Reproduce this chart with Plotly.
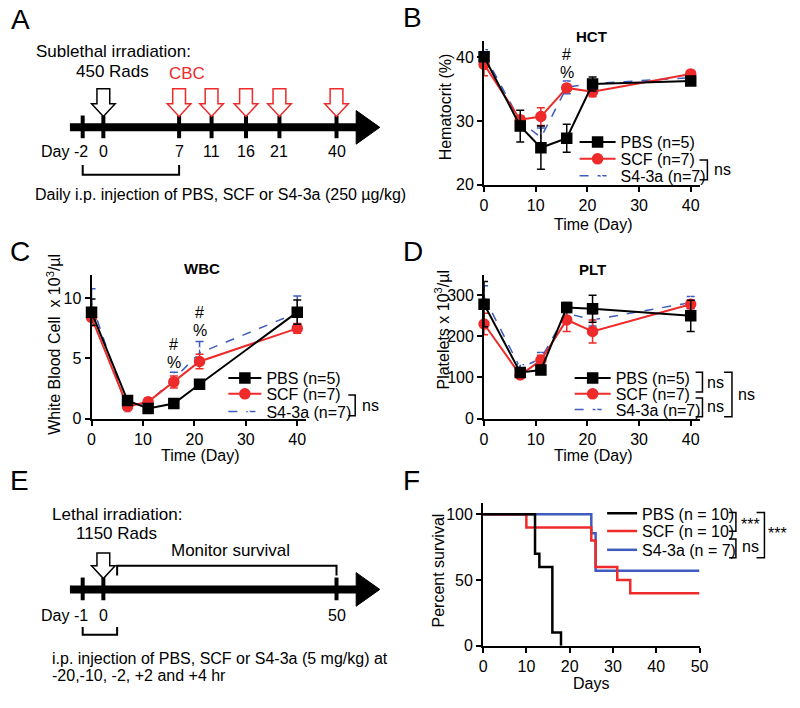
import plotly.graph_objects as go

W, H = 800, 708
FONT = "Arial, Liberation Sans, sans-serif"
BLACK = "#000000"
RED = "#EE2A2A"
BLUE = "#3F5BBE"

# ---------------- data ----------------
days = [0, 7, 11, 16, 21, 40]
groups = ["PBS (n=5)", "SCF (n=7)", "S4-3a (n=7)"]

hct_pbs = [40.1, 29.2, 25.8, 27.3, 35.8, 36.3]
hct_pbs_err = [0.6, 2.5, 3.4, 2.2, 1.1, 0.4]
hct_scf = [38.9, 30.2, 30.7, 35.2, 34.6, 37.4]
hct_scf_err = [1.8, 0.6, 1.4, 0.5, 0.8, 0.3]
hct_s43a = [40.5, 30.0, 27.4, 35.3, 35.9, 36.8]
hct_s43a_err = [0.7, 0.8, 1.5, 1.0, 0.5, 0.3]

wbc_pbs = [8.85, 1.5, 0.85, 1.25, 2.85, 8.85]
wbc_pbs_err = [1.1, 0.4, 0.15, 0.15, 0.2, 1.0]
wbc_scf = [8.4, 1.0, 1.4, 3.05, 4.75, 7.5]
wbc_scf_err = [0.7, 0.2, 0.3, 0.5, 0.6, 0.4]
wbc_s43a = [9.6, 0.75, 1.3, 3.3, 5.45, 8.8]
wbc_s43a_err = [1.2, 0.2, 0.2, 0.55, 0.95, 1.4]

plt_pbs = [278, 112, 118, 270, 267, 250]
plt_pbs_err = [55, 10, 10, 12, 33, 38]
plt_scf = [230, 106, 142, 240, 212, 278]
plt_scf_err = [26, 8, 12, 28, 28, 10]
plt_s43a = [296, 123, 146, 256, 240, 282]
plt_s43a_err = [27, 8, 15, 10, 15, 15]

surv_groups = ["PBS (n = 10)", "SCF (n = 10)", "S4-3a (n = 7)"]
surv_pbs_t = [0, 12, 13, 16, 18]
surv_pbs_s = [100, 70, 60, 10, 0]
surv_scf_t = [0, 10, 25, 26, 31, 34, 50]
surv_scf_s = [100, 90, 80, 60, 50, 40, 40]
surv_s43a_t = [0, 25, 26, 50]
surv_s43a_s = [100, 85.7, 57.1, 57.1]

timeline_a_days = ["-2", "0", "7", "11", "16", "21", "40"]
timeline_e_days = ["-1", "0", "50"]


def px(x):
    return x / W


def py(y):
    return 1 - y / H


fig = go.Figure()
shapes = []
annos = []
legends = {}


def text(x, y, s, size=15, color=BLACK, xanchor="left", yanchor="middle", angle=0, bold=False, **kw):
    if bold:
        s = "<b>" + s + "</b>"
    annos.append(dict(x=px(x), y=py(y), xref="paper", yref="paper", text=s, showarrow=False,
                      xanchor=xanchor, yanchor=yanchor, textangle=angle,
                      font=dict(family=FONT, size=size, color=color), **kw))


def path(pts, close=False, color=BLACK, width=2, fill=None):
    d = "M " + " L ".join(f"{px(x):.5f},{py(y):.5f}" for x, y in pts)
    if close:
        d += " Z"
    shp = dict(type="path", path=d, xref="paper", yref="paper",
               line=dict(color=color, width=width))
    if fill:
        shp["fillcolor"] = fill
    shapes.append(shp)


def line(x0, y0, x1, y1, color=BLACK, width=2):
    shapes.append(dict(type="line", x0=px(x0), y0=py(y0), x1=px(x1), y1=py(y1),
                       xref="paper", yref="paper", line=dict(color=color, width=width)))


def hollow_arrow(cx, top, head, tip, color):
    path([(cx - 6.5, top), (cx + 6.5, top), (cx + 6.5, head), (cx + 12, head), (cx, tip),
          (cx - 12, head), (cx - 6.5, head)], close=True, color=color, width=1.5, fill="white")


def timeline(yc, tick_x):
    line(67, yc, 360, yc, width=8)
    path([(358, yc - 17), (382, yc), (358, yc + 17)], close=True, width=1, fill=BLACK)
    for tx in tick_x:
        line(tx, yc - 12, tx, yc + 11, width=4)


# ---------------- panel A ----------------
a_x = [80, 101, 178, 211, 246, 280, 338]
timeline(129, a_x)
hollow_arrow(101, 90, 105, 118, BLACK)
for cx in a_x[2:]:
    hollow_arrow(cx, 90, 105, 118, RED)
text(87, 153, "Day " + timeline_a_days[0], size=16, xanchor="right")
for cx, lab in zip(a_x[1:], timeline_a_days[1:]):
    text(cx, 153, lab, size=16, xanchor="center")
text(31, 52, "Sublethal irradiation:", size=17)
text(71, 72, "450 Rads", size=17)
text(166, 74, "CBC", size=17, color=RED)
path([(80, 167), (80, 177), (178, 177), (178, 167)], width=2)
text(29, 197, "Daily i.p. injection of PBS, SCF or S4-3a (250 \u00b5g/kg)", size=16)

# ---------------- panel E ----------------
e_x = [80, 101, 338]
timeline(597, e_x)
hollow_arrow(101, 560, 573, 586, BLACK)
text(87, 623, "Day " + timeline_e_days[0], size=16, xanchor="right")
for cx, lab in zip(e_x[1:], timeline_e_days[1:]):
    text(cx, 623, lab, size=16, xanchor="center")
text(47, 521, "Lethal irradiation:", size=17)
text(71, 540, "1150 Rads", size=17)
text(230, 558, "Monitor survival", size=17, xanchor="center")
path([(115, 583), (115, 573), (338, 573), (338, 583)], width=2)
path([(80, 635), (80, 643), (115, 643), (115, 635)], width=2)
text(47, 667, "i.p. injection of PBS, SCF or S4-3a (5 mg/kg) at", size=16)
text(47, 684, "-20,-10, -2, +2 and +4 hr", size=16)

# ---------------- panel letters ----------------
for lx, ly, L in [(5, 20, "A"), (404, 18, "B"), (4, 255, "C"), (404, 255, "D"), (4, 487, "E"), (404, 487, "F")]:
    text(lx, ly, L, size=28)

# ---------------- axes ----------------
axis_common = dict(showline=True, linewidth=2, linecolor=BLACK, ticks="outside", ticklen=5,
                   tickwidth=2, tickcolor=BLACK, showgrid=False, zeroline=False,
                   tickfont=dict(family=FONT, size=16, color=BLACK), fixedrange=True)


def dom(a, b, vertical=False):
    if vertical:
        return [py(b), py(a)]
    return [px(a), px(b)]


layout_axes = {
    # B
    "xaxis": dict(domain=dom(488, 707), range=[0, 41.7], tickvals=[0, 10, 20, 30, 40], anchor="y", **axis_common),
    "yaxis": dict(domain=dom(42, 187, True), range=[20, 42.5], tickvals=[20, 30, 40], anchor="x", **axis_common),
    # C
    "xaxis2": dict(domain=dom(89, 307), range=[0, 41.7], tickvals=[0, 10, 20, 30, 40], anchor="y2", **axis_common),
    "yaxis2": dict(domain=dom(279, 424, True), range=[0, 11.9], tickvals=[0, 5, 10], anchor="x2", **axis_common),
    # D
    "xaxis3": dict(domain=dom(488, 707), range=[0, 41.7], tickvals=[0, 10, 20, 30, 40], anchor="y3", **axis_common),
    "yaxis3": dict(domain=dom(279, 424, True), range=[0, 348], tickvals=[0, 100, 200, 300], anchor="x3", **axis_common),
    # F
    "xaxis4": dict(domain=dom(487, 707), range=[0, 50], tickvals=[0, 10, 20, 30, 40, 50], anchor="y4", **axis_common),
    "yaxis4": dict(domain=dom(509, 654, True), range=[0, 109], tickvals=[0, 50, 100], anchor="x4", **axis_common),
}

leg_count = [0]


def new_legend(x, yc, itemwidth):
    leg_count[0] += 1
    name = "legend" if leg_count[0] == 1 else f"legend{leg_count[0]}"
    legends[name] = dict(x=px(x), y=py(yc), xanchor="left", yanchor="middle", bgcolor="rgba(0,0,0,0)",
                         borderwidth=0, font=dict(family=FONT, size=16, color=BLACK),
                         itemwidth=itemwidth, tracegroupgap=0)
    return name


def add_group(xa, ya, vals, errs, leg_x, leg_rows, iw):
    styles = [
        dict(color=BLACK, symbol="square", size=10, dash="solid", lw=2),
        dict(color=RED, symbol="circle", size=10, dash="solid", lw=2),
        dict(color=BLUE, symbol="triangle-up-open", size=10, dash="dash", lw=1.5),
    ]
    for i in [2, 1, 0]:
        st = styles[i]
        leg = new_legend(leg_x, leg_rows[i], iw)
        fig.add_trace(go.Scatter(
            x=days, y=vals[i], name=groups[i], mode="lines+markers",
            xaxis=xa, yaxis=ya, legend=leg, cliponaxis=False,
            line=dict(color=st["color"], width=st["lw"], dash=st["dash"]),
            marker=dict(symbol=st["symbol"], size=st["size"],
                        color="white" if "open" in st["symbol"] else st["color"],
                        line=dict(color=st["color"], width=1.5)),
            error_y=dict(type="data", array=errs[i], color=st["color"], thickness=1.5, width=4),
        ))


add_group("x", "y", [hct_pbs, hct_scf, hct_s43a], [hct_pbs_err, hct_scf_err, hct_s43a_err],
          580, [144, 161, 178], 36)
add_group("x2", "y2", [wbc_pbs, wbc_scf, wbc_s43a], [wbc_pbs_err, wbc_scf_err, wbc_s43a_err],
          223, [383, 399, 417], 33)
add_group("x3", "y3", [plt_pbs, plt_scf, plt_s43a], [plt_pbs_err, plt_scf_err, plt_s43a_err],
          575, [383, 399, 415], 36)

surv = [(surv_pbs_t, surv_pbs_s, BLACK), (surv_scf_t, surv_scf_s, RED), (surv_s43a_t, surv_s43a_s, BLUE)]
surv_rows = [520, 538, 557]
for i in [2, 1, 0]:
    t, s, c = surv[i]
    leg = new_legend(608, surv_rows[i], 30)
    fig.add_trace(go.Scatter(x=t, y=s, name=surv_groups[i], mode="lines", line_shape="hv",
                             xaxis="x4", yaxis="y4", legend=leg, cliponaxis=False,
                             line=dict(color=c, width=2.5)))

# axis titles
text(449, 108, "Hematocrit (%)", size=16, angle=-90, xanchor="center")
text(599, 227, "Time (Day)", size=16, xanchor="center")
text(50, 349, "White Blood Cell  x 10<sup>3</sup>/\u00b5l", size=16, angle=-90, xanchor="center")
text(200, 461, "Time (Day)", size=16, xanchor="center")
text(445, 334, "Platelets x 10<sup>3</sup>/\u00b5l", size=16, angle=-90, xanchor="center")
text(599, 461, "Time (Day)", size=16, xanchor="center")
text(442, 578, "Percent survival", size=16, angle=-90, xanchor="center")
text(597, 692, "Days", size=16, xanchor="center")

# panel titles
text(597, 37, "HCT", size=15, bold=True, xanchor="center")
text(201, 272, "WBC", size=15, bold=True, xanchor="center")
text(598, 273, "PLT", size=15, bold=True, xanchor="center")


# significance marks
def mark(xa, ya, xv, yv, s):
    annos.append(dict(x=xv, y=yv, xref=xa, yref=ya, text=s, showarrow=False,
                      font=dict(family=FONT, size=16, color=BLACK)))


mark("x", "y", 16, 40.5, "#")
mark("x", "y", 16, 37.7, "%")
mark("x2", "y2", 16, 6.2, "#")
mark("x2", "y2", 16, 4.7, "%")
mark("x2", "y2", 21, 8.8, "#")
mark("x2", "y2", 21, 7.3, "%")


# brackets
def bracket(x0, x1, y0, y1, label, lx, ly):
    path([(x0, y0), (x1, y0), (x1, y1), (x0, y1)], width=1.5)
    text(lx, ly, label, size=16)


bracket(707, 715, 162, 182, "ns", 720, 172)
bracket(350, 357, 400, 421, "ns", 362, 411)
bracket(703, 710, 377, 397, "ns", 713, 387)
bracket(703, 710, 403, 422, "ns", 713, 412)
bracket(732, 740, 377, 422, "ns", 744, 400)
bracket(737, 744, 519, 538, "***", 747, 531)
bracket(737, 744, 546, 565, "ns", 748, 554)
bracket(765, 773, 519, 565, "***", 775, 540)

fig.update_layout(width=W, height=H, margin=dict(l=0, r=0, t=0, b=0), autosize=False,
                  paper_bgcolor="white", plot_bgcolor="white", showlegend=True,
                  shapes=shapes, annotations=annos, **layout_axes, **legends)

fig.write_html("out.html", config={"displayModeBar": False},
               post_script="document.body.style.margin='0';")
